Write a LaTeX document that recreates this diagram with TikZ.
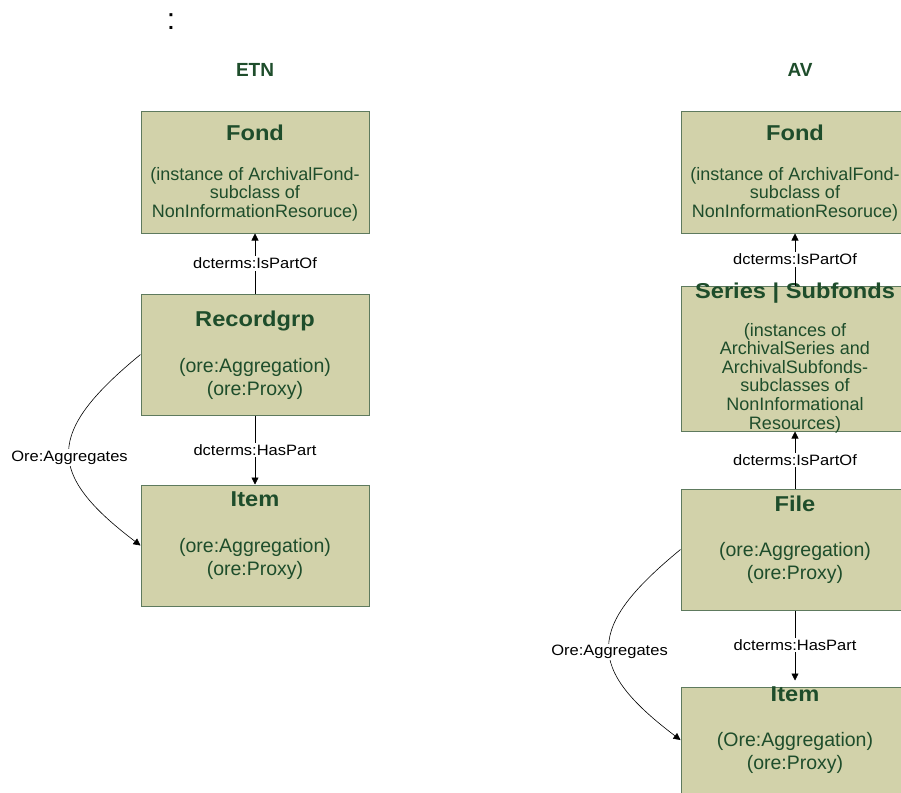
\documentclass[tikz,border=0pt]{standalone}
\usepackage{fontspec}
\setmainfont{Liberation Sans}
\newfontfamily\widesans[FakeStretch=1.1]{Liberation Sans}
\usetikzlibrary{arrows.meta}
\definecolor{boxfill}{HTML}{D2D2AA}
\definecolor{boxline}{HTML}{5E7A5E}
\definecolor{ink}{HTML}{1E4D2B}

\begin{document}
\begin{tikzpicture}[x=1pt,y=-1pt,
  box/.style={draw=boxline, line width=1pt, fill=boxfill,
    minimum width=228pt, minimum height=122pt, inner sep=0pt},
  boxtitle/.style={font=\widesans\fontsize{21.5}{24}\selectfont\bfseries, text=ink, anchor=base, inner sep=0pt},
  boxbody/.style={font=\fontsize{18}{18.6}\selectfont, text=ink, align=center, inner sep=0pt},
  aggbody/.style={font=\fontsize{19.5}{23}\selectfont, text=ink, align=center, inner sep=0pt},
  heading/.style={font=\fontsize{19}{22}\selectfont\bfseries, text=ink},
  lbl/.style={font=\widesans\fontsize{15}{16}\selectfont, fill=white, inner sep=1.5pt},
  link/.style={-{Triangle[length=7pt,width=7pt]}, line width=0.6pt}]
\useasboundingbox (0,0) rectangle (901,792);
\clip (0,0) rectangle (901,792);

% top marks and column headings
\node[font=\fontsize{30}{32}\selectfont] (colon) at (171,22) {:};
\node[heading] (etn) at (255,70) {ETN};
\node[heading] (av) at (800,70) {AV};

% ---------- ETN column ----------
\node[box] (lfond) at (255,172) {};
\node[boxtitle] (lfondt) at (255,140.5) {Fond};
\node[boxbody] (lfondb) at (255,194) {(instance of ArchivalFond-\\subclass of\\NonInformationResoruce)};

\node[box, minimum height=121pt] (lrec) at (255,354.5) {};
\node[boxtitle] (lrect) at (255,326) {Recordgrp};
\node[aggbody] (lrecb) at (255,378.5) {(ore:Aggregation)\\(ore:Proxy)};

\node[box, minimum height=121pt] (litem) at (255,545.5) {};
\node[boxtitle] (litemt) at (255,506.5) {Item};
\node[aggbody] (litemb) at (255,558.5) {(ore:Aggregation)\\(ore:Proxy)};

\draw[link] (lrec.north) -- node[lbl] {dcterms:IsPartOf} (lfond.south);
\draw[link] (lrec.south) -- node[lbl] {dcterms:HasPart} (litem.north);
\draw[link] (lrec.west) .. controls +(-95,78) and +(-95,-72) .. (litem.west)
  node[lbl, pos=0.53] (lagg) {Ore:Aggregates};

% ---------- AV column ----------
\node[box] (rfond) at (795,172) {};
\node[boxtitle] (rfondt) at (795,140.5) {Fond};
\node[boxbody] (rfondb) at (795,194) {(instance of ArchivalFond-\\subclass of\\NonInformationResoruce)};

\node[box, minimum height=145pt] (rser) at (795,358.5) {};
\node[boxtitle] (rsert) at (795,298) {Series | Subfonds};
\node[boxbody] (rserb) at (795,378) {(instances of\\ArchivalSeries and\\ArchivalSubfonds-\\subclasses of\\NonInformational\\Resources)};

\node[box, minimum height=121pt] (rfile) at (795,549.5) {};
\node[boxtitle] (rfilet) at (795,511.5) {File};
\node[aggbody] (rfileb) at (795,562.5) {(ore:Aggregation)\\(ore:Proxy)};

\node[box, minimum height=121pt] (ritem) at (795,747.5) {};
\node[boxtitle] (ritemt) at (795,701.5) {Item};
\node[aggbody] (ritemb) at (795,752.5) {(Ore:Aggregation)\\(ore:Proxy)};

\draw[link] (rser.north) -- node[lbl] {dcterms:IsPartOf} (rfond.south);
\draw[link] (rfile.north) -- node[lbl] {dcterms:IsPartOf} (rser.south);
\draw[link, shorten >=6pt] (rfile.south) -- node[lbl, pos=0.46] {dcterms:HasPart} (ritem.north);
\draw[link] (rfile.west) .. controls +(-95,78) and +(-95,-72) .. ([yshift=7.5pt]ritem.west)
  node[lbl, pos=0.53] (ragg) {Ore:Aggregates};
\end{tikzpicture}
\end{document}
